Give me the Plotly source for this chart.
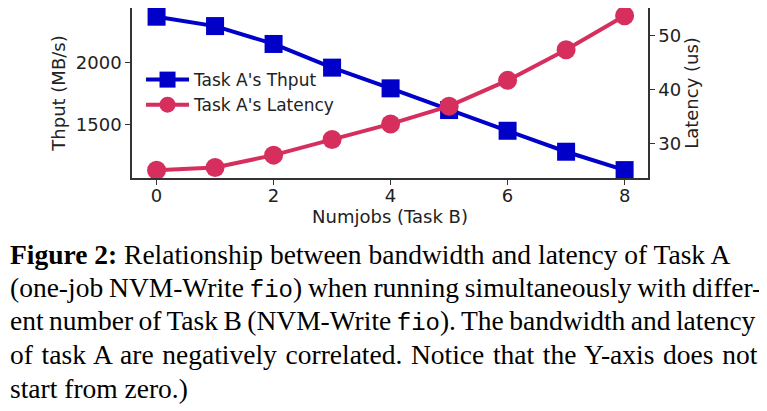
import plotly.graph_objects as go

numjobs = [0, 1, 2, 3, 4, 5, 6, 7, 8]
thput = [2373, 2297, 2152, 1960, 1792, 1616, 1448, 1278, 1129]
latency = [25.0, 25.5, 27.8, 30.7, 33.6, 36.9, 41.7, 47.4, 53.7]

caption = [
    "<b>Figure 2:</b> Relationship between bandwidth and latency of Task A",
    "(one-job NVM-Write {tt}) when running simultaneously with differ-",
    "ent number of Task B (NVM-Write {tt}). The bandwidth and latency",
    "of task A are negatively correlated. Notice that the Y-axis does not",
    "start from zero.)",
]
code_word = "fio"

blue = "#0000C8"
pink = "#D62F5D"

# page has an 8px body margin; figure drawn in 759x403
W, H = 759, 403
L, R, T, B = 124, 640, 0, 170

fig = go.Figure()
fig.add_trace(go.Scatter(x=numjobs, y=thput, name="Task A's Thput", mode="lines+markers",
                         line=dict(color=blue, width=4),
                         marker=dict(symbol="square", size=18, color=blue), yaxis="y"))
fig.add_trace(go.Scatter(x=numjobs, y=latency, name="Task A's Latency", mode="lines+markers",
                         line=dict(color=pink, width=4),
                         marker=dict(symbol="circle", size=19, color=pink), yaxis="y2"))

tickfont = dict(family="DejaVu Sans", size=18, color="#222")
fig.update_layout(
    width=W, height=H,
    margin=dict(l=L, r=W - R, t=T, b=H - B, autoexpand=False),
    paper_bgcolor="white", plot_bgcolor="white",
    showlegend=True,
    legend=dict(x=0.0175, y=0.682, xanchor="left", yanchor="top", bgcolor="rgba(0,0,0,0)",
                font=dict(family="DejaVu Sans", size=17, color="#222"), tracegroupgap=0,
                itemwidth=43),
    xaxis=dict(range=[-0.42, 8.4], tickvals=[0, 2, 4, 6, 8], showgrid=False, zeroline=False,
               showline=True, mirror=True, linecolor="#333", linewidth=1.5,
               ticks="outside", ticklen=5, tickcolor="#333", tickfont=tickfont,
               ticklabelstandoff=-4,
               title=dict(text="Numjobs (Task B)", font=tickfont, standoff=4)),
    yaxis=dict(range=[1065, 2443.6], tickvals=[1500, 2000], showgrid=False, zeroline=False,
               showline=True, linecolor="#333", linewidth=1.5,
               ticks="outside", ticklen=5, tickcolor="#333", tickfont=tickfont,
               title=dict(text="Thput (MB/s)", font=tickfont, standoff=6)),
    yaxis2=dict(range=[23.55, 55.15], tickvals=[30, 40, 50], overlaying="y", side="right",
                showgrid=False, zeroline=False, showline=True, linecolor="#333", linewidth=1.5,
                ticks="outside", ticklen=5, tickcolor="#333", tickfont=tickfont,
                title=dict(text="Latency (us)", font=tickfont, standoff=2)),
)

tt = "<span style='font-family:Liberation Mono;font-size:24px'>%s</span>" % code_word
word_spacing = [0, -1.0, -1.4, 1.8, 0]
centers = [246, 280, 313, 346, 380]
for line, cy, ws in zip(caption, centers, word_spacing):
    txt = "<span style='word-spacing:%spx'>%s</span>" % (ws, line.format(tt=tt))
    fig.add_annotation(text=txt, xref="paper", yref="paper",
                       x=(0 - L) / (R - L), y=(B - cy) / (B - T),
                       xanchor="left", yanchor="middle", showarrow=False,
                       font=dict(family="Liberation Serif", size=27.5, color="black"))

fig.write_html("out.html")
